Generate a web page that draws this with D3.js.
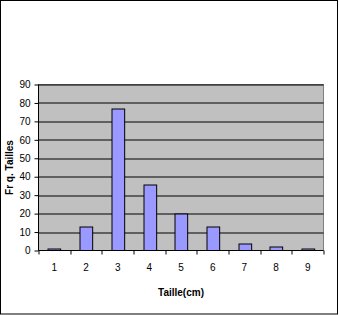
<!DOCTYPE html>
<html>
<head>
<meta charset="utf-8">
<script src="https://cdn.jsdelivr.net/npm/d3@7"></script>
<style>
  body { margin: 0; background: #fff; }
  svg { display: block; font-family: "Liberation Sans", Arial, sans-serif; }
</style>
</head>
<body>
<div id="chart"></div>
<script>
// data
const tailles = ["1", "2", "3", "4", "5", "6", "7", "8", "9"]
const frequences = [1, 13, 77, 36, 20, 13, 4, 2, 1]
const yTicks = [0, 10, 20, 30, 40, 50, 60, 70, 80, 90]

const W = 339, H = 315
let margin = { top: 84.5, right: 15.5, bottom: 64.5, left: 38.5 }
let width = W - margin.left - margin.right
let height = H - margin.top - margin.bottom

const svg = d3.select("#chart")
    .append("svg")
    .attr("width", W)
    .attr("height", H)

// outer frame
svg.append("rect")
    .attr("x", 0.5).attr("y", 0.5)
    .attr("width", W - 2).attr("height", H - 1.5)
    .attr("fill", "#fff")
    .attr("stroke", "#000")

const g = svg.append("g")
    .attr("transform", "translate(" + margin.left + "," + margin.top + ")")

var x = d3.scaleBand()
    .domain(tailles)
    .range([0, width])
    .paddingInner(0.6)
    .paddingOuter(0.3)

var xb = d3.scaleLinear().domain([0, tailles.length]).range([0, width])

var y = d3.scaleLinear()
    .domain([0, 90])
    .range([height, 0])

// plot area
g.append("rect")
    .attr("width", width).attr("height", height)
    .attr("fill", "#c0c0c0")
    .attr("stroke", "#808080")

// gridlines
g.append("g")
    .selectAll("line")
    .data(yTicks.slice(1))
    .enter()
    .append("line")
    .attr("x1", 0).attr("x2", width)
    .attr("y1", d => Math.round(y(d)) + 0.5)
    .attr("y2", d => Math.round(y(d)) + 0.5)
    .attr("stroke", "#000")

// bars
g.append("g")
    .selectAll("rect")
    .data(frequences)
    .enter()
    .append("rect")
    .attr("x", (d, i) => Math.round(xb(i) + (xb(1) - xb(0)) * 0.3) + 0.5)
    .attr("y", d => Math.round(y(d)) + 0.5)
    .attr("width", (xb(1) - xb(0)) * 0.4)
    .attr("height", d => height - Math.round(y(d)) - 0.5)
    .attr("fill", "#9999ff")
    .attr("stroke", "#000")

// y axis
const yAxis = g.append("g")
    .call(d3.axisLeft(y).tickValues(yTicks).tickSize(4).tickPadding(4))
yAxis.select(".domain").attr("d", "M0," + height + "V0")
yAxis.selectAll("text").attr("font-size", 10).attr("font-family", "Liberation Sans, Arial, sans-serif").attr("fill", "#000")

// x axis: ticks at category boundaries, labels at centres
const xAxis = g.append("g")
    .attr("transform", "translate(0," + height + ")")
xAxis.append("line")
    .attr("x1", 0).attr("x2", width)
    .attr("stroke", "#000")
xAxis.selectAll(".tk")
    .data(d3.range(tailles.length + 1))
    .enter()
    .append("line")
    .attr("x1", d => Math.round(xb(d)) + 0.5)
    .attr("x2", d => Math.round(xb(d)) + 0.5)
    .attr("y1", 0).attr("y2", 4)
    .attr("stroke", "#000")
xAxis.selectAll("text")
    .data(tailles)
    .enter()
    .append("text")
    .attr("x", d => x(d) + x.bandwidth() / 2)
    .attr("y", 20)
    .attr("text-anchor", "middle")
    .attr("font-size", 10)
    .text(d => d)

// axis titles
svg.append("text")
    .attr("x", margin.left + width / 2)
    .attr("y", 296)
    .attr("text-anchor", "middle")
    .attr("font-size", 10)
    .attr("font-weight", "bold")
    .text("Taille(cm)")

svg.append("text")
    .attr("transform", "translate(13," + (margin.top + height / 2) + ") rotate(-90)")
    .attr("text-anchor", "middle")
    .attr("font-size", 10)
    .attr("font-weight", "bold")
    .text("Fr q. Tailles")
</script>
</body>
</html>
